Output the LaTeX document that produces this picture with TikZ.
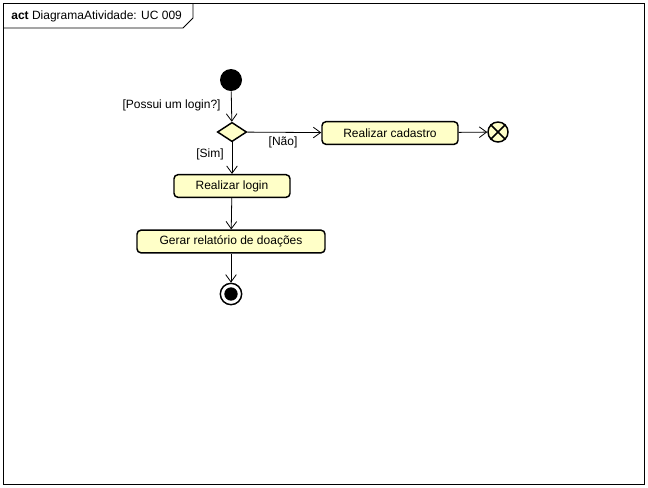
\documentclass[tikz,border=0pt]{standalone}
\usepackage{fontspec}
\setmainfont{Liberation Sans}
\usetikzlibrary{positioning}
\usetikzlibrary{arrows.meta}
\usetikzlibrary{shapes}
\definecolor{actYellow}{RGB}{255,255,200}
\tikzset{every picture/.style={semithick}}

\begin{document}
\begin{tikzpicture}[x=0.75pt,y=-0.75pt,>={Straight Barb[length=5.5pt,width=8pt]},
                    font=\fontsize{9}{10.5}\selectfont,
                    action/.style={draw,line width=1.1pt,rounded corners=3pt,fill=actYellow,minimum height=17pt,inner sep=0pt},
                    flow/.style={->,line width=0.6pt}]
                    \useasboundingbox (0,0) rectangle (648,487);
                    \draw[line width=0.6pt] (3,3) rectangle (644,484);
                    \draw[line width=0.6pt] (3,28) -- (183,28) -- (193,18) -- (193,3);
                    \node[anchor=west,inner sep=0pt] (title) at (11,16) {\textbf{act} DiagramaAtividade: UC 009};
                    \node[circle,fill,inner sep=0pt,minimum size=16.5pt] (start) at (231,80) {};
                    \node[diamond,draw,line width=1.1pt,fill=actYellow,inner sep=0pt,minimum width=22pt,minimum height=14.5pt] (dec) at (232,132) {};
                    \node[action,minimum width=87pt] (login) at (232,186) {Realizar login};
                    \node[action,minimum width=141pt] (relatorio) at (231,241.5) {Gerar relatório de doações};
                    \node[action,minimum width=102pt] (cadastro) at (390,133) {Realizar cadastro};
                    \node[circle,draw,line width=1.1pt,inner sep=0pt,minimum size=16pt] (end) at (231,294) {};
                    \node[circle,fill,inner sep=0pt,minimum size=10pt] (endDot) at (end.center) {};
                    \node[circle,draw,line width=1.1pt,fill=actYellow,inner sep=0pt,minimum size=15pt] (flowEnd) at (498,132) {};
                    \draw[line width=1.1pt] (flowEnd.45) -- (flowEnd.225);
                    \draw[line width=1.1pt] (flowEnd.135) -- (flowEnd.315);
                    % connectors
                    \draw[flow] (start) -- (dec);
                    \draw[flow] (dec) -- (login);
                    \draw[flow] (dec) -- (cadastro);
                    \draw[flow] (login) -- (relatorio);
                    \draw[flow] (relatorio) -- (end);
                    \draw[flow] (cadastro) -- (flowEnd);
                    % guards
                    \node[anchor=east,inner sep=0pt] (possui) at (221,105) {[Possui um login?]};
                    \node[inner sep=0pt] (sim) at (210,154) {[Sim]};
                    \node[inner sep=0pt] (nao) at (283,142) {[Não]};
                \end{tikzpicture}
\end{document}
